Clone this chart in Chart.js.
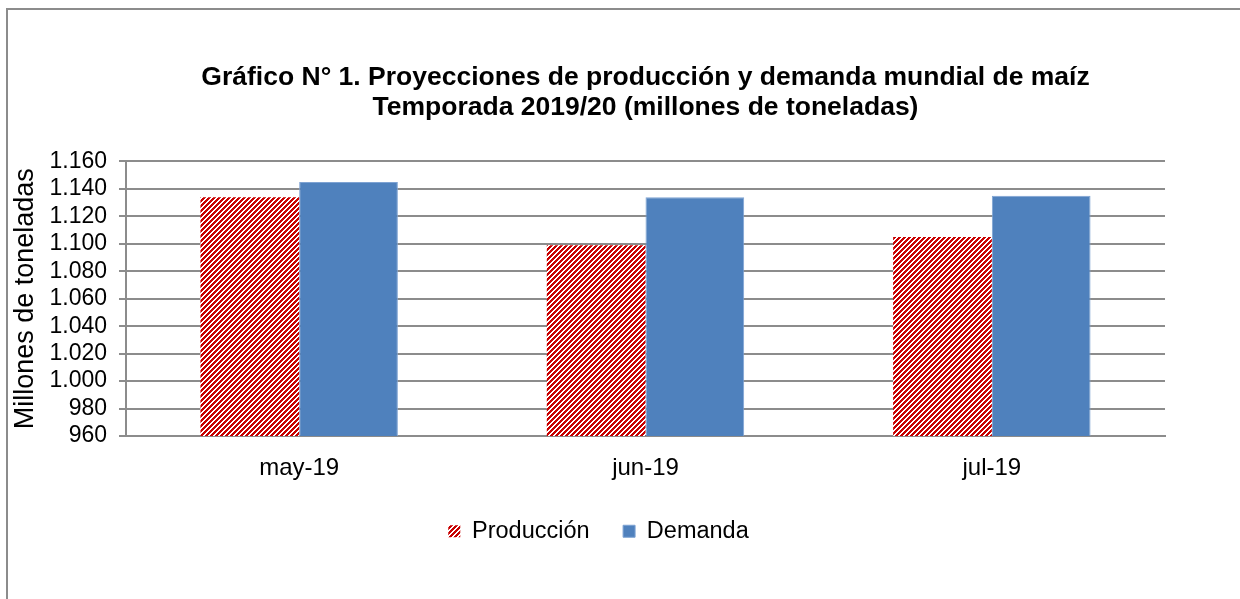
<!DOCTYPE html>
<html>
<head>
<meta charset="utf-8">
<script src="https://cdn.jsdelivr.net/npm/chart.js@4.4.1/dist/chart.umd.min.js"></script>
<style>
  html, body { margin: 0; padding: 0; background: #ffffff; }
  #wrap { width: 1240px; height: 599px; }
</style>
</head>
<body>
<div id="wrap"><canvas id="c" width="1240" height="599" style="width:1240px;height:599px"></canvas></div>
<script>
const categories = ["may-19", "jun-19", "jul-19"];
const produccion = [1134, 1099, 1105];
const demanda = [1145, 1134, 1135];
const yTicks = [960, 980, 1000, 1020, 1040, 1060, 1080, 1100, 1120, 1140, 1160];
const titleLines = ["Gráfico N° 1. Proyecciones de producción y demanda mundial de maíz", "Temporada 2019/20 (millones de toneladas)"];
const yAxisTitle = "Millones de toneladas";
const seriesNames = ["Producción", "Demanda"];

function hatch() {
  const p = document.createElement('canvas');
  const n = 5;
  p.width = n; p.height = n;
  const g = p.getContext('2d');
  g.fillStyle = '#ffffff';
  g.fillRect(0, 0, n, n);
  g.fillStyle = '#c80000';
  for (let x = 0; x < n; x++) {
    for (let y = 0; y < n; y++) {
      if (((x + y) % n) < 3) g.fillRect(x, y, 1, 1);
    }
  }
  return g.createPattern(p, 'repeat');
}

function fmt(v) {
  const s = String(Math.round(v));
  return s.length > 3 ? s.slice(0, s.length - 3) + '.' + s.slice(-3) : s;
}

const framePlugin = {
  id: 'frame',
  afterDraw(chart) {
    const ctx = chart.ctx;
    ctx.save();
    ctx.strokeStyle = '#8c8c8c';
    ctx.lineWidth = 2;
    ctx.beginPath();
    ctx.moveTo(7, 599);
    ctx.lineTo(7, 9);
    ctx.lineTo(1240, 9);
    ctx.stroke();
    ctx.restore();
  }
};

const FONT = "'Liberation Sans', Arial, sans-serif";

new Chart(document.getElementById('c'), {
  type: 'bar',
  data: {
    labels: categories,
    datasets: [
      { label: seriesNames[0], data: produccion, backgroundColor: hatch(), borderWidth: 0 },
      { label: seriesNames[1], data: demanda, backgroundColor: '#4f81bd', borderColor: '#7ea3d3', borderWidth: 1 }
    ]
  },
  options: {
    responsive: false,
    devicePixelRatio: 1,
    animation: false,
    layout: { padding: { top: 63, right: 43, bottom: 46, left: 0 } },
    datasets: { bar: { categoryPercentage: 0.57, barPercentage: 1.0 } },
    plugins: {
      title: {
        display: true,
        fullSize: false,
        text: titleLines,
        color: '#000000',
        font: { family: FONT, size: 26.5, weight: 'bold', lineHeight: 1.132 },
        padding: { top: 0, bottom: 38.5 }
      },
      legend: {
        position: 'bottom',
        labels: {
          color: '#000000',
          font: { family: FONT, size: 23.5 },
          boxWidth: 12,
          boxHeight: 12,
          padding: 33.5
        }
      },
      tooltip: { enabled: false }
    },
    scales: {
      x: {
        grid: { display: false, drawTicks: false },
        border: { display: true, color: '#8c8c8c', width: 2 },
        ticks: { color: '#000000', font: { family: FONT, size: 24 }, padding: 18 },
        afterFit(s) { s.height = 50; }
      },
      y: {
        min: 960,
        max: 1160,
        afterBuildTicks(s) { s.ticks = yTicks.map(v => ({ value: v })); },
        grid: { color: '#8c8c8c', lineWidth: 2, tickLength: 7, drawTicks: true },
        border: { display: true, color: '#8c8c8c', width: 2 },
        ticks: { color: '#000000', font: { family: FONT, size: 23, lineHeight: 1 }, padding: 12, autoSkip: false, callback: v => fmt(v) },
        title: { display: true, text: yAxisTitle, color: '#000000', font: { family: FONT, size: 27 }, padding: { top: 9, bottom: 4 } },
        afterFit(s) { s.width = 126; }
      },
      yRight: {
        position: 'right',
        display: true,
        min: 0,
        max: 1,
        grid: { display: false, drawTicks: false },
        border: { display: false },
        ticks: { display: false },
        afterFit(s) { s.width = 32; }
      }
    }
  },
  plugins: [framePlugin]
});
</script>
</body>
</html>
